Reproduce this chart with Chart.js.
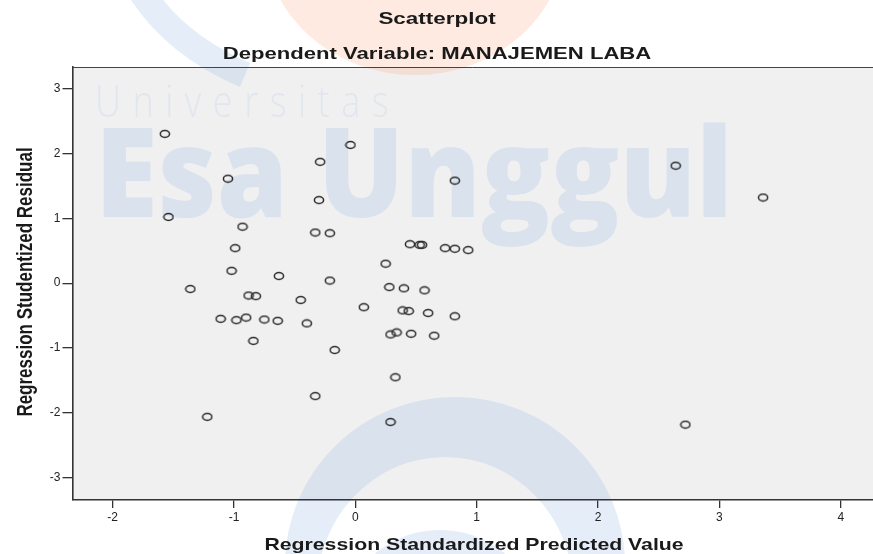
<!DOCTYPE html>
<html>
<head>
<meta charset="utf-8">
<script src="https://cdn.jsdelivr.net/npm/chart.js@4.4.1/dist/chart.umd.min.js"></script>
<style>
  html, body { margin: 0; padding: 0; background: #ffffff; overflow: hidden; }
  #wrap { width: 873px; height: 554px; position: relative; }
</style>
</head>
<body>
<div id="wrap"><canvas id="myChart"></canvas></div>
<script>
// chart texts
const chartTitle = 'Scatterplot';
const chartSubtitle = 'Dependent Variable: MANAJEMEN LABA';
const xTitle = 'Regression Standardized Predicted Value';
const yTitle = 'Regression Studentized Residual';

// tick labels
const xTicks = [-2, -1, 0, 1, 2, 3, 4];
const yTicks = [-3, -2, -1, 0, 1, 2, 3];

// standardized predicted value (x) and studentized residual (y)
const predicted = [
  -1.57, -1.54, -1.36, -1.22, -1.11, -1.05, -1.02, -0.99, -0.98, -0.93,
  -0.90, -0.88, -0.84, -0.82, -0.75, -0.63, -0.64, -0.45, -0.40, -0.33,
  -0.33, -0.30, -0.29, -0.21, -0.21, -0.17, -0.04, 0.07, 0.25, 0.28,
  0.29, 0.29, 0.33, 0.34, 0.40, 0.39, 0.44, 0.45, 0.46, 0.53,
  0.55, 0.57, 0.60, 0.65, 0.74, 0.82, 0.82, 0.82, 0.93, 2.64,
  2.72, 3.36
];
const residual = [
  2.30, 1.02, -0.09, -2.06, -0.55, 1.61, 0.19, 0.54, -0.57, 0.87,
  -0.53, -0.19, -0.89, -0.20, -0.56, 0.11, -0.58, -0.26, -0.62, 0.78,
  -1.74, 1.28, 1.87, 0.77, 0.04, -1.03, 2.13, -0.37, 0.30, -0.06,
  -0.79, -2.14, -1.45, -0.76, -0.08, -0.42, -0.43, 0.60, -0.78, 0.59,
  0.59, -0.11, -0.46, -0.81, 0.54, 1.58, 0.53, -0.51, 0.51, 1.81,
  -2.18, 1.32
];

document.addEventListener('DOMContentLoaded', function() {
  var points = predicted.map(function(x, i) { return { x: x, y: residual[i] }; });

  // the source picture is stretched sideways, so the markers are small ellipses
  var marker = document.createElement('canvas');
  marker.width = 12;
  marker.height = 10;
  var mctx = marker.getContext('2d');
  mctx.strokeStyle = '#2b2b2b';
  mctx.lineWidth = 1.5;
  mctx.beginPath();
  mctx.ellipse(6, 5, 4.6, 3.4, 0, 0, Math.PI * 2);
  mctx.stroke();

  function stretchedText(ctx, text, x, y, sx, sy) {
    ctx.save();
    ctx.translate(x, y);
    ctx.scale(sx, sy);
    ctx.fillText(text, 0, 0);
    ctx.restore();
  }

  var backdrop = {
    id: 'backdrop',
    beforeDraw: function(chart) {
      var ctx = chart.ctx, a = chart.chartArea;
      ctx.save();
      ctx.fillStyle = '#ffffff';
      ctx.fillRect(0, 0, chart.width, chart.height);
      ctx.fillStyle = '#f0f0f0';
      ctx.fillRect(a.left, a.top, a.right - a.left, a.bottom - a.top);

      // watermark of the source page
      ctx.fillStyle = 'rgba(250, 150, 100, 0.2)';
      ctx.beginPath();
      ctx.ellipse(415, -60, 150, 135, 0, 0, Math.PI * 2);
      ctx.fill();
      ctx.strokeStyle = 'rgba(160, 190, 235, 0.28)';
      ctx.lineWidth = 26;
      ctx.beginPath();
      ctx.moveTo(140, -10);
      ctx.quadraticCurveTo(175, 45, 245, 75);
      ctx.stroke();

      ctx.fillStyle = 'rgba(160, 190, 235, 0.28)';
      ctx.beginPath();
      ctx.ellipse(455, 565, 170, 168, 0, 0, Math.PI * 2);
      ctx.ellipse(445, 590, 128, 133, 0, 0, Math.PI * 2);
      ctx.fill('evenodd');
      ctx.beginPath();
      ctx.ellipse(440, 640, 105, 110, 0, 0, Math.PI * 2);
      ctx.ellipse(440, 665, 75, 85, 0, 0, Math.PI * 2);
      ctx.fill('evenodd');

      ctx.textAlign = 'left';
      ctx.textBaseline = 'alphabetic';
      ctx.font = '800 124px "Open Sans"';
      var w = ctx.measureText('Esa Unggul').width;
      stretchedText(ctx, 'Esa Unggul', 95, 217, 638 / w, 1);
      ctx.fillStyle = 'rgba(160, 190, 235, 0.18)';
      ctx.font = '300 44px "Open Sans"';
      ctx.letterSpacing = '14px';
      w = ctx.measureText('Universitas').width;
      stretchedText(ctx, 'Universitas', 95, 117, 305 / w, 1);
      ctx.letterSpacing = '0px';

      // titles
      ctx.fillStyle = '#1a1a1a';
      ctx.textAlign = 'center';
      ctx.font = 'bold 17px "Liberation Sans"';
      stretchedText(ctx, chartTitle, 437, 24, 1.32, 1);
      stretchedText(ctx, chartSubtitle, 437, 59, 1.3, 1);
      stretchedText(ctx, xTitle, 474, 550, 1.25, 1);
      ctx.save();
      ctx.translate(32, 282);
      ctx.rotate(-Math.PI / 2);
      ctx.scale(1, 1.3);
      ctx.fillText(yTitle, 0, 0);
      ctx.restore();
      ctx.restore();
    },
    afterDraw: function(chart) {
      var ctx = chart.ctx, a = chart.chartArea;
      ctx.save();
      ctx.strokeStyle = '#444444';
      ctx.lineWidth = 1;
      ctx.beginPath();
      ctx.moveTo(a.left, a.top + 0.5);
      ctx.lineTo(a.right, a.top + 0.5);
      ctx.stroke();
      ctx.restore();
    }
  };

  var tickFont = { family: '"Liberation Sans", Arial, sans-serif', size: 12 };

  var ctx = document.getElementById('myChart').getContext('2d');
  var myChart = new Chart(ctx, {
    type: 'scatter',
    data: {
      datasets: [{
        data: points,
        pointStyle: marker,
        pointRadius: 5,
        pointHoverRadius: 5
      }]
    },
    options: {
      responsive: true,
      maintainAspectRatio: false,
      animation: false,
      events: [],
      layout: { autoPadding: false, padding: { top: 67, right: 0, bottom: 0, left: 0 } },
      plugins: {
        legend: { display: false },
        tooltip: { enabled: false }
      },
      scales: {
        x: {
          type: 'linear',
          min: -2.331,
          max: 4.266,
          afterBuildTicks: function(s) { s.ticks = xTicks.map(function(v) { return { value: v }; }); },
          afterFit: function(s) { s.height = 54; s.paddingLeft = 0; s.paddingRight = 0; },
          grid: { drawOnChartArea: false, tickLength: 8, color: '#333333', lineWidth: 1.3 },
          border: { display: true, color: '#333333', width: 1.6 },
          ticks: { font: tickFont, color: '#222222', padding: 2, maxRotation: 0, autoSkip: false }
        },
        y: {
          type: 'linear',
          min: -3.341,
          max: 3.331,
          afterBuildTicks: function(s) { s.ticks = yTicks.map(function(v) { return { value: v }; }); },
          afterFit: function(s) { s.width = 72.5; s.paddingTop = 0; s.paddingBottom = 0; },
          grid: { drawOnChartArea: false, tickLength: 10, color: '#333333', lineWidth: 1.3 },
          border: { display: true, color: '#333333', width: 1.6 },
          ticks: { font: tickFont, color: '#222222', padding: 2, autoSkip: false }
        }
      }
    },
    plugins: [backdrop]
  });
});
</script>
</body>
</html>
